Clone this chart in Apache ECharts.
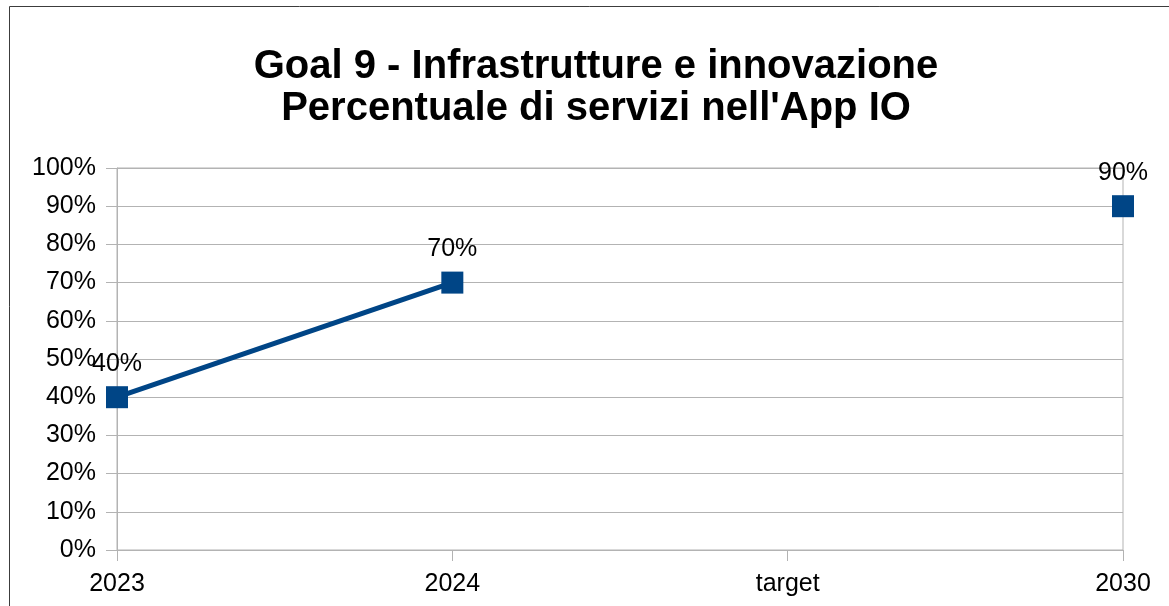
<!DOCTYPE html>
<html>
<head>
<meta charset="utf-8">
<script src="https://cdn.jsdelivr.net/npm/echarts@6/dist/echarts.min.js"></script>
<style>
html,body{margin:0;padding:0;background:#fff;}
#chart{width:1169px;height:606px;}
</style>
</head>
<body>
<div id="chart"></div>
<script>
const categories = ['2023', '2024', 'target', '2030'];
const values = [40, 70, null, 90];
const yTicks = [0, 10, 20, 30, 40, 50, 60, 70, 80, 90, 100];
const titleLines = ['Goal 9 - Infrastrutture e innovazione', "Percentuale di servizi nell'App IO"];

const font = '"Liberation Sans", Arial, sans-serif';
const chart = echarts.init(document.getElementById('chart'), null, {renderer: 'canvas'});
chart.setOption({
  animation: false,
  backgroundColor: '#fff',
  graphic: [{
    type: 'rect', z: -1,
    shape: {x: 9.5, y: 6.5, width: 1200, height: 700},
    style: {fill: 'none', stroke: '#3c3c3c', lineWidth: 1}
  }],
  title: {
    text: titleLines.join('\n'),
    left: 591, top: 41, textAlign: 'center',
    textStyle: {fontFamily: font, fontWeight: 'bold', fontSize: 40, lineHeight: 42, color: '#000'}
  },
  grid: {left: 117, right: 46, top: 168, bottom: 56, show: true, borderColor: '#b3b3b3', borderWidth: 1, containLabel: false},
  xAxis: {
    type: 'category', data: categories, boundaryGap: false,
    axisLine: {show: true, lineStyle: {color: '#b3b3b3', width: 1}},
    axisTick: {show: true, length: 11, lineStyle: {color: '#b3b3b3'}},
    axisLabel: {fontFamily: font, fontSize: 25, color: '#000', margin: 22},
    splitLine: {show: false}
  },
  yAxis: {
    type: 'value', min: yTicks[0], max: yTicks[yTicks.length - 1], interval: yTicks[1] - yTicks[0],
    axisLine: {show: true, lineStyle: {color: '#b3b3b3', width: 1}},
    axisTick: {show: true, length: 11, lineStyle: {color: '#b3b3b3'}},
    axisLabel: {fontFamily: font, fontSize: 25, color: '#000', margin: 21, formatter: '{value}%'},
    splitLine: {show: true, lineStyle: {color: '#b3b3b3', width: 1}}
  },
  series: [{
    type: 'line', data: values, connectNulls: false,
    symbol: 'rect', symbolSize: 22,
    lineStyle: {color: '#004586', width: 5},
    itemStyle: {color: '#004586'},
    label: {show: true, position: 'top', distance: 10, formatter: '{c}%', fontFamily: font, fontSize: 25, color: '#000'}
  }]
});
</script>
</body>
</html>
